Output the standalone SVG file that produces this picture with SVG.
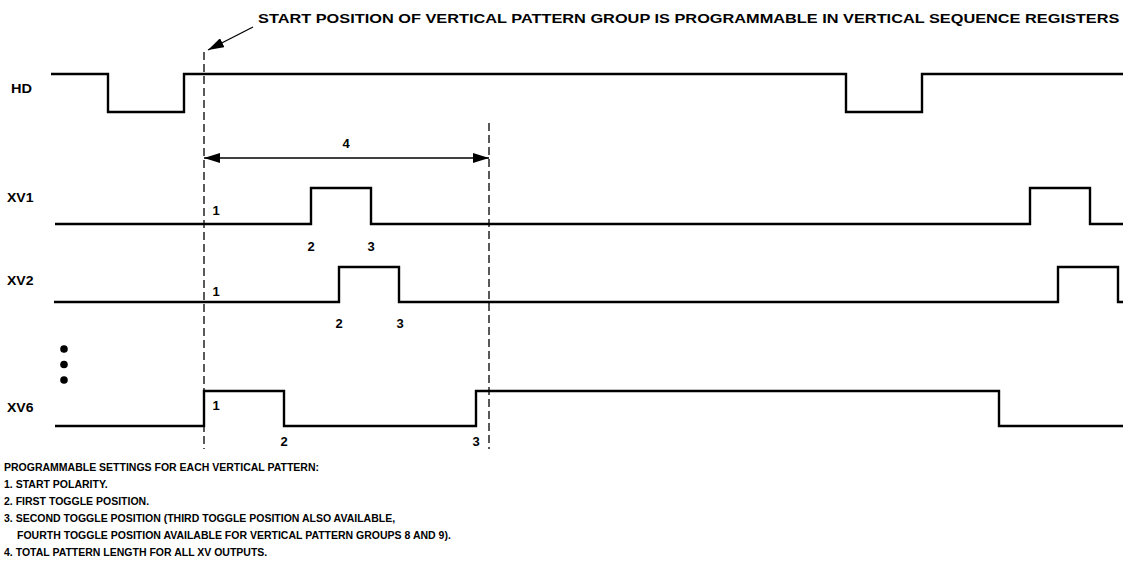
<svg xmlns="http://www.w3.org/2000/svg" width="1123" height="571" viewBox="0 0 1123 571">
<style>
.sig{fill:none;stroke:#000;stroke-width:2.4;stroke-linejoin:miter;stroke-linecap:butt}
.dash{fill:none;stroke:#000;stroke-width:1.3;stroke-dasharray:8 4}
.arr{fill:none;stroke:#000;stroke-width:1.3}
.t{font-family:"Liberation Sans",Arial,sans-serif;font-weight:bold;font-size:13px;fill:#000}
.n{font-family:"Liberation Sans",Arial,sans-serif;font-weight:bold;font-size:13px;fill:#000;text-anchor:middle}
.note{font-family:"Liberation Sans",Arial,sans-serif;font-weight:bold;font-size:10.5px;fill:#000}
</style>
<defs>
<marker id="ah" viewBox="0 0 16 10" refX="16" refY="5" markerWidth="16" markerHeight="10" markerUnits="userSpaceOnUse" orient="auto-start-reverse">
<path d="M0,0 L16,5 L0,10 z" fill="#000"/>
</marker>
</defs>
<rect width="1123" height="571" fill="#fff"/>

<g id="title">
<text class="t" transform="translate(258 23) scale(1.256 1)">START POSITION OF VERTICAL PATTERN GROUP IS PROGRAMMABLE IN VERTICAL SEQUENCE REGISTERS</text>
</g>

<g id="guides">
<line class="dash" x1="204" y1="52" x2="204" y2="449"/>
<line class="dash" x1="489" y1="123" x2="489" y2="449"/>
</g>

<g id="connectors">
<line class="arr" x1="253" y1="27" x2="208" y2="50" marker-end="url(#ah)"/>
<line class="arr" x1="204" y1="158" x2="489" y2="158" marker-start="url(#ah)" marker-end="url(#ah)"/>
<text class="n" x="346" y="148">4</text>
</g>

<g id="HD">
<text class="t" transform="translate(11 93) scale(1.12 1)">HD</text>
<path class="sig" d="M51,74 H108 V112 H184 V74 H846 V112 H922 V74 H1123"/>
</g>

<g id="XV1">
<text class="t" transform="translate(7 202) scale(1.08 1)">XV1</text>
<path class="sig" d="M55,224 H311 V188 H371 V224 H1030 V188 H1090 V224 H1123"/>
<text class="n" x="216" y="215">1</text>
<text class="n" x="311" y="251">2</text>
<text class="n" x="371" y="251">3</text>
</g>

<g id="XV2">
<text class="t" transform="translate(7 285) scale(1.08 1)">XV2</text>
<path class="sig" d="M54,302 H339 V267 H399 V302 H1058 V267 H1118 V302 H1123"/>
<text class="n" x="216" y="296">1</text>
<text class="n" x="339" y="328">2</text>
<text class="n" x="400" y="328">3</text>
</g>

<g id="ellipsis">
<circle cx="64" cy="349" r="3.8" fill="#000"/>
<circle cx="64" cy="364.5" r="3.8" fill="#000"/>
<circle cx="64" cy="380" r="3.8" fill="#000"/>
</g>

<g id="XV6">
<text class="t" transform="translate(7 412) scale(1.08 1)">XV6</text>
<path class="sig" d="M55,426 H204 V391 H284 V426 H476 V391 H999 V426 H1123"/>
<text class="n" x="216" y="410">1</text>
<text class="n" x="284" y="446">2</text>
<text class="n" x="476" y="446">3</text>
</g>

<g id="notes">
<text class="note" x="4" y="471">PROGRAMMABLE SETTINGS FOR EACH VERTICAL PATTERN:</text>
<text class="note" x="4" y="488">1. START POLARITY.</text>
<text class="note" x="4" y="505">2. FIRST TOGGLE POSITION.</text>
<text class="note" x="4" y="522">3. SECOND TOGGLE POSITION (THIRD TOGGLE POSITION ALSO AVAILABLE,</text>
<text class="note" x="17" y="539">FOURTH TOGGLE POSITION AVAILABLE FOR VERTICAL PATTERN GROUPS 8 AND 9).</text>
<text class="note" x="4" y="556">4. TOTAL PATTERN LENGTH FOR ALL XV OUTPUTS.</text>
</g>
</svg>
